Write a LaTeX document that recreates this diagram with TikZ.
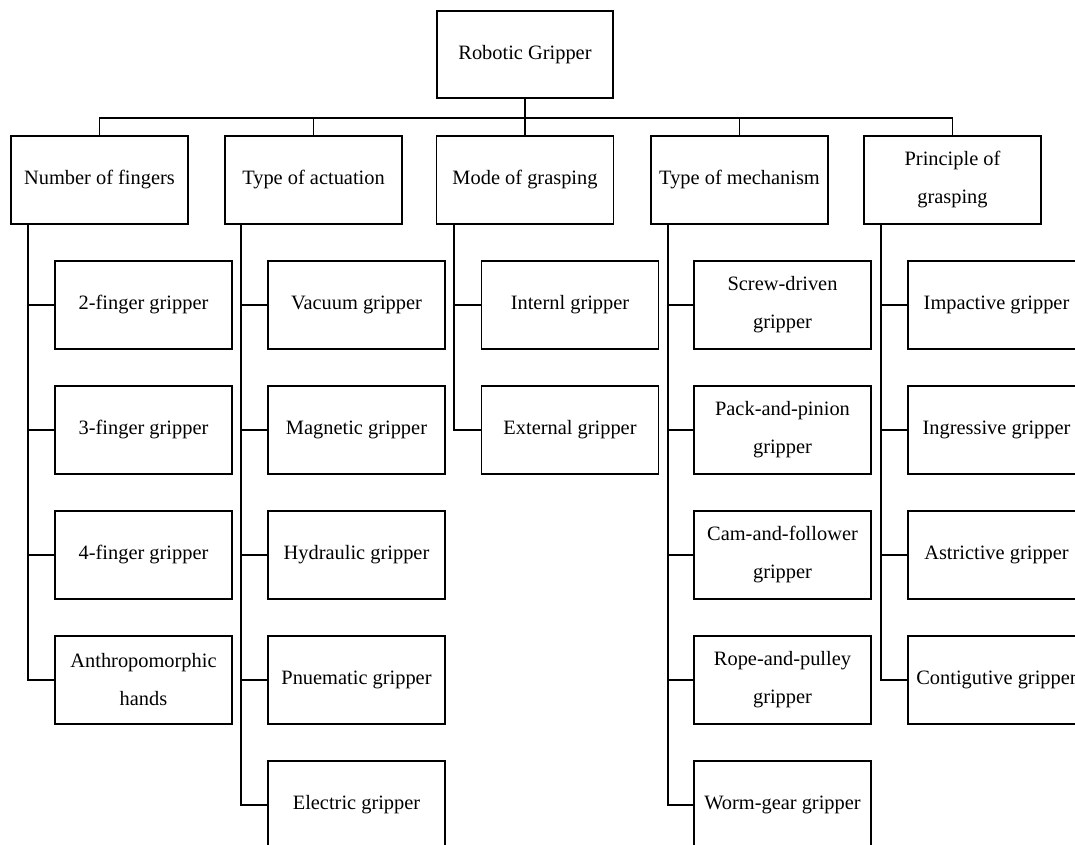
\documentclass[tikz,border=0pt]{standalone}
\usepackage{fontspec}
\setmainfont{Liberation Serif}
\begin{document}
\begin{tikzpicture}[x=1pt,y=-1pt,
  box/.style={draw,line width=1.6pt,minimum width=177pt,minimum height=88pt,inner sep=2pt,align=center,font=\fontsize{20.4}{38}\selectfont},
  conn/.style={line width=1.6pt}]
\useasboundingbox (0,0) rectangle (1075,844);
\clip (0,0) rectangle (1075,844);
\node[box,minimum width=176pt,minimum height=87pt] (root) at (525,54.5) {Robotic Gripper};
\node[box] (p1) at (99.5,180) {Number of fingers};
\node[box] (p2) at (313.5,180) {Type of actuation};
\node[box] (p3) at (525,180) {Mode of grasping};
\node[box] (p4) at (739.5,180) {Type of mechanism};
\node[box] (p5) at (952.5,180) {Principle of\\grasping};
% column 1
\node[box] (a1) at (143.5,305) {2-finger gripper};
\node[box] (a2) at (143.5,430) {3-finger gripper};
\node[box] (a3) at (143.5,555) {4-finger gripper};
\node[box] (a4) at (143.5,680) {Anthropomorphic\\hands};
% column 2
\node[box] (b1) at (356.5,305) {Vacuum gripper};
\node[box] (b2) at (356.5,430) {Magnetic gripper};
\node[box] (b3) at (356.5,555) {Hydraulic gripper};
\node[box] (b4) at (356.5,680) {Pnuematic gripper};
\node[box] (b5) at (356.5,805) {Electric gripper};
% column 3
\node[box] (c1) at (570,305) {Internl gripper};
\node[box] (c2) at (570,430) {External gripper};
% column 4
\node[box] (d1) at (782.5,305) {Screw-driven\\gripper};
\node[box] (d2) at (782.5,430) {Pack-and-pinion\\gripper};
\node[box] (d3) at (782.5,555) {Cam-and-follower\\gripper};
\node[box] (d4) at (782.5,680) {Rope-and-pulley\\gripper};
\node[box] (d5) at (782.5,805) {Worm-gear gripper};
% column 5
\node[box] (e1) at (996.5,305) {Impactive gripper};
\node[box] (e2) at (996.5,430) {Ingressive gripper};
\node[box] (e3) at (996.5,555) {Astrictive gripper};
\node[box] (e4) at (996.5,680) {Contigutive gripper};
% top connectors
\foreach \p in {p1,p2,p3,p4,p5}
  \draw[conn] (root.south) -- ++(0,19) -| (\p.north);
% trunks
\foreach \c in {a1,a2,a3,a4} \draw[conn] ([xshift=18pt]p1.south west) |- (\c.west);
\foreach \c in {b1,b2,b3,b4,b5} \draw[conn] ([xshift=17pt]p2.south west) |- (\c.west);
\foreach \c in {c1,c2} \draw[conn] ([xshift=18pt]p3.south west) |- (\c.west);
\foreach \c in {d1,d2,d3,d4,d5} \draw[conn] ([xshift=18pt]p4.south west) |- (\c.west);
\foreach \c in {e1,e2,e3,e4} \draw[conn] ([xshift=18pt]p5.south west) |- (\c.west);
\end{tikzpicture}
\end{document}
